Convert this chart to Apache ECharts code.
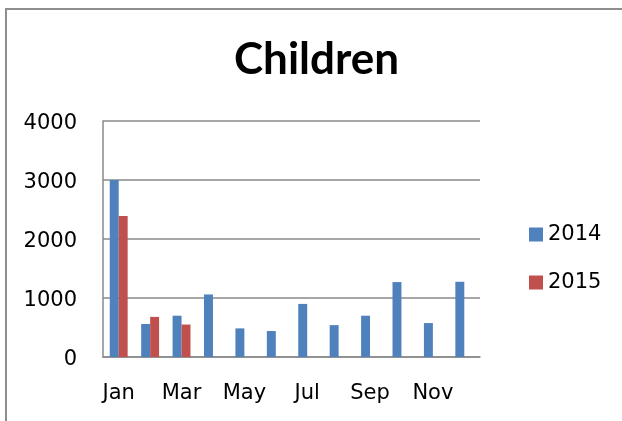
<!DOCTYPE html>
<html>
<head>
<meta charset="utf-8">
<style>
  html, body { margin: 0; padding: 0; background: #ffffff; }
  #chart { width: 622px; height: 421px; }
</style>
<script src="https://cdn.jsdelivr.net/npm/echarts@6/dist/echarts.min.js"></script>
</head>
<body>
<div id="chart"></div>
<script>
// Monthly counts of children, 2014 vs 2015
const months = ['Jan', 'Feb', 'Mar', 'Apr', 'May', 'Jun', 'Jul', 'Aug', 'Sep', 'Oct', 'Nov', 'Dec'];
const series2014 = [3000, 560, 700, 1060, 485, 440, 900, 540, 700, 1270, 575, 1275];
const series2015 = [2390, 680, 550, null, null, null, null, null, null, null, null, null];
const seriesNames = ['2014', '2015'];
const yTicks = { min: 0, max: 4000, interval: 1000 };

const axisGrey = '#8a8a8a';
const labelFont = 'DejaVu Sans';

const chart = echarts.init(document.getElementById('chart'), null, { renderer: 'canvas' });

chart.setOption({
  backgroundColor: '#ffffff',
  animation: false,
  title: {
    text: 'Children',
    left: 234,
    top: 38,
    padding: 0,
    textStyle: {
      fontFamily: 'Lato, "Liberation Sans", sans-serif',
      fontWeight: 'bold',
      fontSize: 44,
      lineHeight: 44,
      color: '#000000'
    }
  },
  // outer chart frame
  graphic: [{
    type: 'rect',
    shape: { x: 6, y: 9, width: 800, height: 600 },
    style: { fill: 'none', stroke: '#8e8e8e', lineWidth: 2 },
    silent: true
  }],
  legend: {
    orient: 'vertical',
    left: 524,
    top: 219,
    itemWidth: 14,
    itemHeight: 14,
    itemGap: 27,
    icon: 'rect',
    data: seriesNames,
    textStyle: {
      fontFamily: labelFont,
      fontSize: 21,
      lineHeight: 21,
      color: '#000000'
    }
  },
  grid: {
    left: 103,
    right: 142,
    top: 121,
    bottom: 64,
    containLabel: false
  },
  xAxis: {
    type: 'category',
    data: months,
    axisLine: { show: true, lineStyle: { color: axisGrey, width: 1.5 } },
    axisTick: { show: false },
    axisLabel: {
      interval: 1,
      margin: 26,
      fontFamily: labelFont,
      fontSize: 21,
      lineHeight: 21,
      color: '#000000'
    },
    splitLine: { show: false }
  },
  yAxis: {
    type: 'value',
    min: yTicks.min,
    max: yTicks.max,
    interval: yTicks.interval,
    axisLine: { show: true, lineStyle: { color: axisGrey, width: 1.5 } },
    axisTick: { show: false },
    axisLabel: {
      margin: 26,
      color: '#000000',
      formatter: function (v) { return '{t|' + v + '}'; },
      rich: {
        t: {
          fontFamily: labelFont,
          fontSize: 21,
          lineHeight: 21,
          padding: [6, 0, 0, 0],
          color: '#000000'
        }
      }
    },
    splitLine: { show: true, lineStyle: { color: axisGrey, width: 1.5 } }
  },
  series: [
    {
      name: seriesNames[0],
      type: 'bar',
      data: series2014,
      barGap: '0%',
      barCategoryGap: '43%',
      itemStyle: { color: '#4f81bd' }
    },
    {
      name: seriesNames[1],
      type: 'bar',
      data: series2015,
      barGap: '0%',
      barCategoryGap: '43%',
      itemStyle: { color: '#c0504d' }
    }
  ]
});
</script>
</body>
</html>
